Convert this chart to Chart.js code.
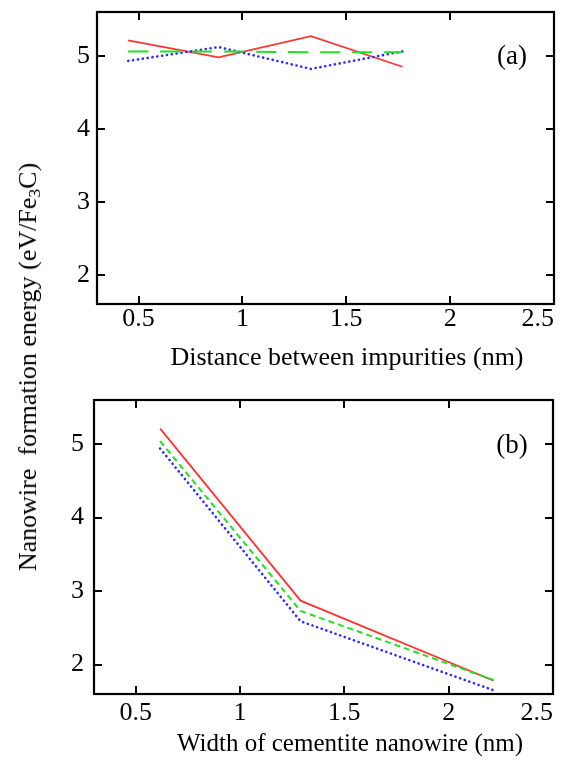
<!DOCTYPE html>
<html>
<head>
<meta charset="utf-8">
<script src="https://cdn.jsdelivr.net/npm/chart.js@4.4.1/dist/chart.umd.min.js"></script>
<style>
  html, body {
    margin: 0;
    padding: 0;
    background: #fff;
  }
  body {
    position: relative;
    width: 565px;
    height: 774px;
    overflow: hidden;
    font-family: "Liberation Serif", "Times New Roman", serif;
    color: #000;
  }
  .panel {
    position: absolute;
    left: 0;
    width: 565px;
  }
  #panel-a { top: 0; height: 390px; }
  #panel-b { top: 390px; height: 384px; }
  .axis-title {
    position: absolute;
    white-space: nowrap;
    line-height: 26px;
    transform: translateX(-50%);
  }
  #title-a { left: 347px; top: 344px; font-size: 26px; }
  #title-b { left: 350px; top: 730px; font-size: 25px; }
  #y-title {
    position: absolute;
    left: 28px;
    top: 367px;
    font-size: 26px;
    line-height: 26px;
    white-space: nowrap;
    transform: translate(-50%, -50%) rotate(-90deg);
  }
  #y-title sub {
    font-size: 0.68em;
    vertical-align: -0.25em;
    line-height: 0;
  }
</style>
</head>
<body>
<div class="panel" id="panel-a"><canvas id="chart-a"></canvas></div>
<div class="panel" id="panel-b"><canvas id="chart-b"></canvas></div>
<div class="axis-title" id="title-a">Distance between impurities (nm)</div>
<div class="axis-title" id="title-b">Width of cementite nanowire (nm)</div>
<div id="y-title">Nanowire&nbsp;&nbsp;formation energy (eV/Fe<sub>3</sub>C)</div>
<script>
  // panel (a): energy vs distance between impurities
  const distA = [0.45, 0.885, 1.33, 1.77];
  const redA = [5.21, 4.98, 5.27, 4.85];
  const greenA = [5.06, 5.06, 5.05, 5.05];
  const blueA = [4.93, 5.12, 4.82, 5.06];

  // panel (b): energy vs nanowire width
  const widthB = [0.617, 1.29, 2.216];
  const redB = [5.21, 2.87, 1.78];
  const greenB = [5.04, 2.73, 1.79];
  const blueB = [4.94, 2.59, 1.65];

  // axes
  const xMin = 0.3;
  const xMax = 2.5;
  const yMin = 1.6;
  const yMax = 5.6;
  const xTickValues = [0.3, 0.5, 1, 1.5, 2, 2.5];
  const xTickLabels = ["", "0.5", "1", "1.5", "2", "2.5"];
  const yTickValues = [2, 3, 4, 5];
  const yTickLabels = ["2", "3", "4", "5"];

  const FONT = "'Liberation Serif', 'Times New Roman', serif";

  const frameTicks = {
    id: "frameTicks",
    afterDatasetsDraw(chart, args, opts) {
      const { ctx, chartArea: a, scales } = chart;
      const len = 8;
      ctx.save();
      ctx.strokeStyle = "#000";
      ctx.lineWidth = 2;
      ctx.beginPath();
      scales.x.ticks.forEach((t, i) => {
        if (!xTickLabels[i]) return;
        const px = Math.round(scales.x.getPixelForValue(t.value));
        ctx.moveTo(px, a.bottom);
        ctx.lineTo(px, a.bottom - len);
        ctx.moveTo(px, a.top);
        ctx.lineTo(px, a.top + len);
      });
      scales.y.ticks.forEach((t) => {
        const py = Math.round(scales.y.getPixelForValue(t.value));
        ctx.moveTo(a.left, py);
        ctx.lineTo(a.left + len, py);
        ctx.moveTo(a.right, py);
        ctx.lineTo(a.right - len, py);
      });
      ctx.stroke();
      ctx.lineWidth = 2.2;
      ctx.strokeRect(a.left, a.top, a.right - a.left, a.bottom - a.top);

      ctx.fillStyle = "#000";
      ctx.font = `27px ${FONT}`;
      ctx.textAlign = "center";
      ctx.textBaseline = "middle";
      ctx.fillText(opts.label, a.right - opts.dx, a.top + opts.dy);
      ctx.restore();
    },
  };

  function series(xs, ys, color, width, dash, cap) {
    return {
      data: xs.map((x, i) => ({ x, y: ys[i] })),
      borderColor: color,
      borderWidth: width,
      borderDash: dash,
      borderCapStyle: cap || "butt",
      pointRadius: 0,
      tension: 0,
      fill: false,
    };
  }

  function buildConfig(datasets, opts) {
    return {
      type: "line",
      data: { datasets },
      plugins: [frameTicks],
      options: {
        responsive: true,
        maintainAspectRatio: false,
        animation: false,
        events: [],
        layout: { padding: opts.padding },
        plugins: {
          legend: { display: false },
          tooltip: { enabled: false },
          frameTicks: { label: opts.label, dx: opts.labelDx, dy: opts.labelDy },
        },
        scales: {
          x: {
            type: "linear",
            min: xMin,
            max: xMax,
            grid: { display: false, drawTicks: false },
            border: { display: false },
            afterBuildTicks(scale) {
              scale.ticks = xTickValues.map((value) => ({ value }));
            },
            afterFit(scale) {
              scale.height = opts.xHeight;
              scale.paddingLeft = 0;
              scale.paddingRight = 0;
            },
            ticks: {
              autoSkip: false,
              maxRotation: 0,
              align: "inner",
              padding: opts.xPad,
              color: "#000",
              font: { family: FONT, size: 26 },
              callback: (value, index) => xTickLabels[index],
            },
          },
          y: {
            type: "linear",
            min: yMin,
            max: yMax,
            grid: { display: false, drawTicks: false },
            border: { display: false },
            afterBuildTicks(scale) {
              scale.ticks = yTickValues.map((value) => ({ value }));
            },
            afterFit(scale) {
              scale.width = opts.yWidth;
              scale.paddingTop = 0;
              scale.paddingBottom = 0;
            },
            ticks: {
              padding: opts.yPad,
              color: "#000",
              font: { family: FONT, size: 26 },
              callback: (value, index) => yTickLabels[index],
            },
          },
        },
      },
    };
  }

  new Chart(
    document.getElementById("chart-a"),
    buildConfig(
      [
        series(distA, greenA, "#22e022", 2, [20, 12]),
        series(distA, blueA, "#2b2bff", 2.6, [0.1, 4.8], "round"),
        series(distA, redA, "#ff3535", 1.8, []),
      ],
      {
        padding: { left: 0, top: 12, right: 11, bottom: 0 },
        xHeight: 86,
        yWidth: 97,
        xPad: 0,
        yPad: 7,
        label: "(a)",
        labelDx: 42,
        labelDy: 45,
      }
    )
  );

  new Chart(
    document.getElementById("chart-b"),
    buildConfig(
      [
        series(widthB, blueB, "#2b2bff", 2.6, [0.1, 4.8], "round"),
        series(widthB, greenB, "#22e022", 2, [6, 4]),
        series(widthB, redB, "#ff3535", 1.8, []),
      ],
      {
        padding: { left: 0, top: 10, right: 12, bottom: 0 },
        xHeight: 80,
        yWidth: 94,
        xPad: 4,
        yPad: 10,
        label: "(b)",
        labelDx: 41,
        labelDy: 46,
      }
    )
  );
</script>
</body>
</html>
